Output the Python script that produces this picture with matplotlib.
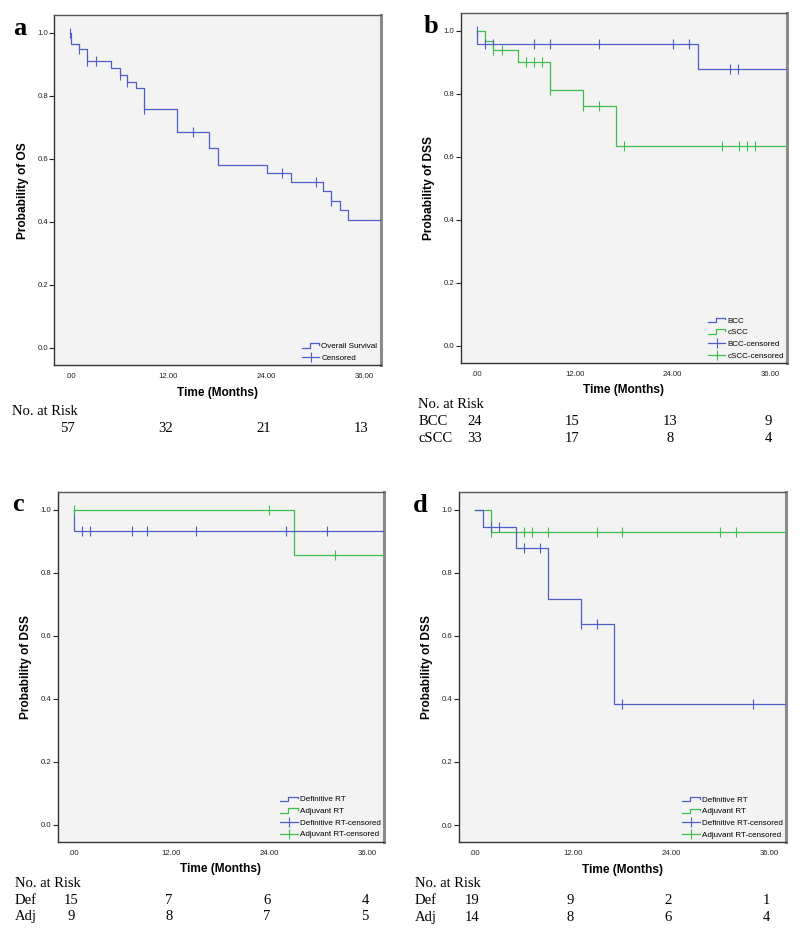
"""Kaplan-Meier curves (OS and DSS) with number-at-risk tables, 2x2 panel."""
import numpy as np
import matplotlib
matplotlib.use("Agg")
import matplotlib.pyplot as plt
from matplotlib.lines import Line2D
from matplotlib.legend_handler import HandlerBase
from matplotlib import transforms

plt.rcParams.update({
    'font.family': 'Liberation Sans',
    'figure.dpi': 100,
})

BLUE = "#4E5EC4"
GREEN = "#3CBF4A"
SERIF = "Liberation Serif"

# ---- data (months, survival prob.) ----
# panel a: overall survival
a_os_t = [0.1, 1.1, 2.1, 5.05, 6.05, 7.0, 8.05, 9.05, 13.05, 17.05, 18.05,
          24.1, 27.1, 31.0, 32.0, 33.05, 34.1]
a_os_s = [0.965, 0.947, 0.909, 0.888, 0.866, 0.845, 0.824, 0.757, 0.686,
          0.634, 0.581, 0.554, 0.527, 0.498, 0.467, 0.437, 0.406]
a_os_c = [0.0, 1.1, 2.1, 3.1, 6.05, 7.0, 9.05, 15.1, 26.0, 30.1, 32.0]

# panel b: DSS by histology
b_bcc_t = [0.1, 27.1]
b_bcc_s = [0.958, 0.878]
b_bcc_c = [0.0, 1.05, 2.05, 7.05, 9.05, 15.05, 24.05, 26.05, 31.05, 32.05]
b_scc_t = [1.05, 2.05, 5.05, 9.05, 13.05, 17.05]
b_scc_s = [0.968, 0.937, 0.902, 0.811, 0.762, 0.635]
b_scc_c = [2.05, 3.05, 6.05, 7.05, 8.05, 9.05, 13.05, 15.05, 18.05,
           30.1, 32.1, 33.1, 34.1]

# panel c: DSS by RT intent (group 1)
c_def_t = [0.02]
c_def_s = [0.933]
c_def_c = [1.0, 2.0, 7.1, 9.0, 15.0, 26.0, 31.0]
c_adj_t = [27.0]
c_adj_s = [0.857]
c_adj_c = [0.0, 24.0, 32.0]

# panel d: DSS by RT intent (group 2)
d_def_t = [1.0, 5.0, 9.0, 13.0, 17.0]
d_def_s = [0.944, 0.877, 0.717, 0.637, 0.383]
d_def_c = [2.0, 3.0, 6.0, 8.0, 13.0, 15.0, 18.0, 34.0]
d_adj_t = [2.0]
d_adj_s = [0.929]
d_adj_c = [2.0, 6.0, 7.0, 9.0, 15.0, 18.0, 30.0, 32.0]

risk_times = [0, 12, 24, 36]
a_risk = [57, 32, 21, 13]
b_risk_bcc = [24, 15, 13, 9]
b_risk_scc = [33, 17, 8, 4]
c_risk_def = [15, 7, 6, 4]
c_risk_adj = [9, 8, 7, 5]
d_risk_def = [19, 9, 2, 1]
d_risk_adj = [14, 8, 6, 4]

xtick_vals = [0, 12, 24, 36]
xtick_labels = [".00", "12.00", "24.00", "36.00"]
ytick_vals = [0.0, 0.2, 0.4, 0.6, 0.8, 1.0]
ytick_labels = ["0.0", "0.2", "0.4", "0.6", "0.8", "1.0"]

XMIN, XMAX = -1.95, 38.05
YMIN, YMAX = -0.054, 1.055
FIG_W, FIG_H = 800, 938


class StepHandler(HandlerBase):
    """Little step icon like the SPSS legend."""
    def create_artists(self, legend, orig_handle, xdescent, ydescent,
                       width, height, fontsize, trans):
        x0, y0 = -xdescent, -ydescent
        xs = [x0, x0 + 0.45 * width, x0 + 0.45 * width, x0 + width, x0 + width]
        ys = [y0 + 0.1 * height, y0 + 0.1 * height, y0 + 0.85 * height,
              y0 + 0.85 * height, y0 + 0.55 * height]
        ln = Line2D(xs, ys, color=orig_handle.get_color(),
                    lw=orig_handle.get_linewidth(), transform=trans)
        return [ln]


def km(ax, t, s, cens, color):
    xs = np.concatenate([[0.0], t, [XMAX]])
    ys = np.concatenate([[1.0], s, [s[-1]]])
    line, = ax.step(xs, ys, where="post", color=color, lw=0.9, zorder=3)
    # censor marks sit on the step function
    cy = [ys[np.searchsorted(xs[:-1], c, side="right") - 1] for c in cens]
    mk, = ax.plot(cens, cy, ls="none", marker="|", ms=6.5, mew=0.8,
                  color=color, zorder=4)
    return line


def px2fig(px_y):
    return 1 - px_y / FIG_H


def setup(ax, ylabel, letter, letter_xy):
    ax.set_facecolor("#F3F3F3")
    ax.set_xlim(XMIN, XMAX)
    ax.set_ylim(YMIN, YMAX)
    ax.set_xticks(xtick_vals)
    ax.set_xticklabels(xtick_labels)
    ax.set_yticks(ytick_vals)
    ax.set_yticklabels(ytick_labels)
    ax.tick_params(axis="x", length=0, pad=6, labelsize=5.6, colors="#222222")
    ax.tick_params(axis="y", length=3.5, width=0.8, pad=1, labelsize=5.6,
                   colors="#222222")
    for side in ("left", "bottom"):
        ax.spines[side].set_color("#333333")
        ax.spines[side].set_linewidth(1.0)
    ax.spines["top"].set_color("#555555")
    ax.spines["top"].set_linewidth(1.0)
    ax.spines["right"].set_color("#8A8A8A")
    ax.spines["right"].set_linewidth(2.2)
    ax.set_xlabel("Time (Months)", fontsize=8.6, fontweight="bold")
    ax.xaxis.set_label_coords(0.5, -0.062)
    ax.set_ylabel(ylabel, fontsize=8.6, fontweight="bold")
    ax.yaxis.set_label_coords(-0.079, 0.5)
    fig.text(letter_xy[0] / FIG_W, px2fig(letter_xy[1]), letter,
             family=SERIF, fontsize=19, fontweight="bold",
             ha="center", va="baseline")


def risk_table(ax, title_px, rows, label_x_px):
    tr = transforms.blended_transform_factory(ax.transData, fig.transFigure)
    fig.text(label_x_px / FIG_W, px2fig(title_px), "No. at Risk",
             family=SERIF, fontsize=10.5, va="baseline", ha="left")
    for name, vals, y_px in rows:
        if name:
            fig.text(label_x_px / FIG_W, px2fig(y_px), name, family=SERIF,
                     fontsize=10.5, va="baseline", ha="left")
        for tt, v in zip(risk_times, vals):
            ax.text(tt - 0.3, px2fig(y_px), str(v), transform=tr,
                    family=SERIF, fontsize=10.5, va="baseline", ha="center")


def legend(ax, handles, labels, step_lines):
    hmap = {h: StepHandler() for h in step_lines}
    ax.legend(handles, labels, handler_map=hmap, loc="lower right",
              frameon=False, fontsize=5.8, handlelength=2.2,
              handletextpad=0.25, labelspacing=0.5, borderaxespad=0.2,
              borderpad=0.2)


fig = plt.figure(figsize=(FIG_W / 100, FIG_H / 100), dpi=100)
ax_a = fig.add_axes([0.0679, 0.6109, 0.408, 0.3728])
ax_b = fig.add_axes([0.5759, 0.6133, 0.408, 0.3725])
ax_c = fig.add_axes([0.0721, 0.1027, 0.408, 0.3725])
ax_d = fig.add_axes([0.5734, 0.1023, 0.4087, 0.3729])

# ---- a ----
setup(ax_a, "Probability of OS", "a", (20, 35))
la = km(ax_a, a_os_t, a_os_s, a_os_c, BLUE)
ca = Line2D([], [], color=BLUE, lw=0.9, marker="|", ms=7, mew=0.8)
legend(ax_a, [la, ca], ["Overall Survival", "Censored"], [la])
risk_table(ax_a, 415, [("", a_risk, 432)], 11.7)

# ---- b ----
setup(ax_b, "Probability of DSS", "b", (431, 33))
lb1 = km(ax_b, b_bcc_t, b_bcc_s, b_bcc_c, BLUE)
lb2 = km(ax_b, b_scc_t, b_scc_s, b_scc_c, GREEN)
cb1 = Line2D([], [], color=BLUE, lw=0.9, marker="|", ms=7, mew=0.8)
cb2 = Line2D([], [], color=GREEN, lw=0.9, marker="|", ms=7, mew=0.8)
legend(ax_b, [lb1, lb2, cb1, cb2],
       ["BCC", "cSCC", "BCC-censored", "cSCC-censored"], [lb1, lb2])
risk_table(ax_b, 408.3, [("BCC", b_risk_bcc, 425), ("cSCC", b_risk_scc, 442.3)], 418.5)

# ---- c ----
setup(ax_c, "Probability of DSS", "c", (17.5, 511))
lc2 = km(ax_c, c_adj_t, c_adj_s, c_adj_c, GREEN)
lc1 = km(ax_c, c_def_t, c_def_s, c_def_c, BLUE)
cc1 = Line2D([], [], color=BLUE, lw=0.9, marker="|", ms=7, mew=0.8)
cc2 = Line2D([], [], color=GREEN, lw=0.9, marker="|", ms=7, mew=0.8)
legend(ax_c, [lc1, lc2, cc1, cc2],
       ["Definitive RT", "Adjuvant RT", "Definitive RT-censored",
        "Adjuvant RT-censored"], [lc1, lc2])
risk_table(ax_c, 886.7, [("Def", c_risk_def, 904), ("Adj", c_risk_adj, 920)], 15)

# ---- d ----
setup(ax_d, "Probability of DSS", "d", (420, 511.7))
ld2 = km(ax_d, d_adj_t, d_adj_s, d_adj_c, GREEN)
ld1 = km(ax_d, d_def_t, d_def_s, d_def_c, BLUE)
cd1 = Line2D([], [], color=BLUE, lw=0.9, marker="|", ms=7, mew=0.8)
cd2 = Line2D([], [], color=GREEN, lw=0.9, marker="|", ms=7, mew=0.8)
legend(ax_d, [ld1, ld2, cd1, cd2],
       ["Definitive RT", "Adjuvant RT", "Definitive RT-censored",
        "Adjuvant RT-censored"], [ld1, ld2])
risk_table(ax_d, 887.3, [("Def", d_risk_def, 904), ("Adj", d_risk_adj, 920.7)], 415)

fig.savefig("out.png", dpi=100)
